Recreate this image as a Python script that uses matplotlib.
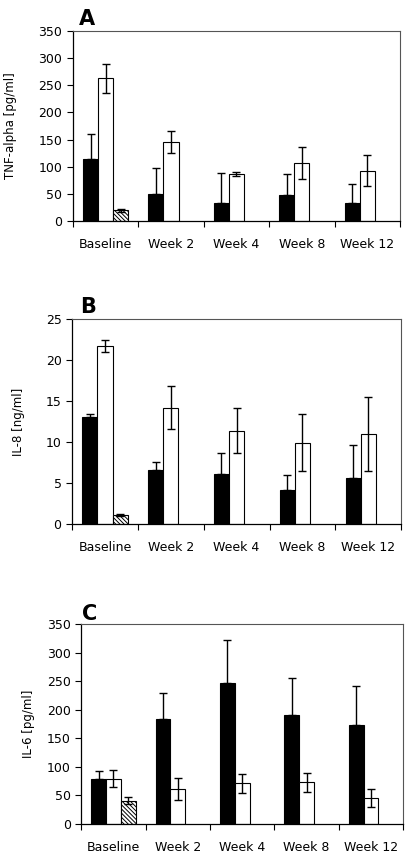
import numpy as np
import matplotlib
matplotlib.use("Agg")
import matplotlib.pyplot as plt

plt.rcParams['font.family'] = ['DejaVu Sans']
plt.rcParams['hatch.linewidth'] = 0.7

categories = ["Baseline", "Week 2", "Week 4", "Week 8", "Week 12"]

# panel A: TNF-alpha [pg/ml]
tnf_black = [115, 50, 33, 48, 33]
tnf_black_err = [45, 47, 55, 39, 36]
tnf_white = [263, 146, 87, 107, 93]
tnf_white_err = [27, 20, 4, 29, 29]
tnf_hatch = [20, 0, 0, 0, 0]
tnf_hatch_err = [3, 0, 0, 0, 0]

# panel B: IL-8 [ng/ml]
il8_black = [13.1, 6.6, 6.1, 4.2, 5.6]
il8_black_err = [0.3, 0.9, 2.6, 1.75, 4.0]
il8_white = [21.7, 14.2, 11.4, 9.9, 11.0]
il8_white_err = [0.75, 2.6, 2.8, 3.5, 4.5]
il8_hatch = [1.14, 0, 0, 0, 0]
il8_hatch_err = [0.12, 0, 0, 0, 0]

# panel C: IL-6 [pg/ml]
il6_black = [79, 183, 247, 190, 173]
il6_black_err = [13, 46, 75, 65, 68]
il6_white = [79, 61, 71, 73, 45]
il6_white_err = [15, 19, 17, 17, 16]
il6_hatch = [41, 0, 0, 0, 0]
il6_hatch_err = [6, 0, 0, 0, 0]

panels = [
    ("A", "TNF-alpha [pg/ml]", tnf_black, tnf_black_err, tnf_white, tnf_white_err,
     tnf_hatch, tnf_hatch_err, 350, 50),
    ("B", "IL-8 [ng/ml]", il8_black, il8_black_err, il8_white, il8_white_err,
     il8_hatch, il8_hatch_err, 25, 5),
    ("C", "IL-6 [pg/ml]", il6_black, il6_black_err, il6_white, il6_white_err,
     il6_hatch, il6_hatch_err, 350, 50),
]

# axes rectangles in figure fractions
rects = [
    [0.176, 0.7418, 0.790, 0.222],
    [0.174, 0.3879, 0.795, 0.2394],
    [0.196, 0.0374, 0.778, 0.2336],
]
label_pos = [(0.19, 0.971), (0.193, 0.6343), (0.198, 0.2757)]
ylab_x = [-0.171, -0.143, -0.143]

fig = plt.figure(figsize=(4.14, 8.56), dpi=100)
x = np.arange(len(categories))
w = 0.23
ekw = dict(ecolor="black", elinewidth=1, capsize=3, capthick=1)

for i, (lab, ylab, bk, bke, wh, whe, ht, hte, ymax, step) in enumerate(panels):
    ax = fig.add_axes(rects[i])
    ax.bar(x - w, bk, w, color="black", edgecolor="black", lw=0.8,
           yerr=[np.zeros(5), bke], error_kw=ekw)
    ax.bar(x, wh, w, color="white", edgecolor="black", lw=0.8,
           yerr=whe, error_kw=ekw)
    hv = np.array(ht)
    m = hv > 0
    ax.bar(x[m] + w, hv[m], w, color="white", edgecolor="black", lw=0.8,
           hatch="\\\\\\\\\\\\\\\\", yerr=np.array(hte)[m], error_kw=ekw)

    ax.set_xlim(-0.5, len(categories) - 0.5)
    ax.set_ylim(0, ymax)
    ax.set_yticks(np.arange(0, ymax + step / 2, step))
    ax.set_xticks(x)
    ax.set_xticklabels(categories, fontsize=9)
    ax.set_xticks(np.arange(-0.5, len(categories), 1), minor=True)
    ax.tick_params(axis="x", which="major", length=0, pad=12)
    ax.tick_params(axis="x", which="minor", length=4, width=0.8, direction="out")
    ax.tick_params(axis="y", length=4, width=0.8, labelsize=9, direction="out")
    for s in ["top", "right"]:
        ax.spines[s].set_color("#555555")
        ax.spines[s].set_linewidth(0.8)
    for s in ["left", "bottom"]:
        ax.spines[s].set_linewidth(0.9)
    ax.set_ylabel(ylab, fontsize=8.5)
    ax.yaxis.set_label_coords(ylab_x[i], 0.5)
    fig.text(label_pos[i][0], label_pos[i][1], lab, fontsize=15,
             fontweight="heavy", ha="left", va="baseline")

fig.savefig("out.png", dpi=100)
